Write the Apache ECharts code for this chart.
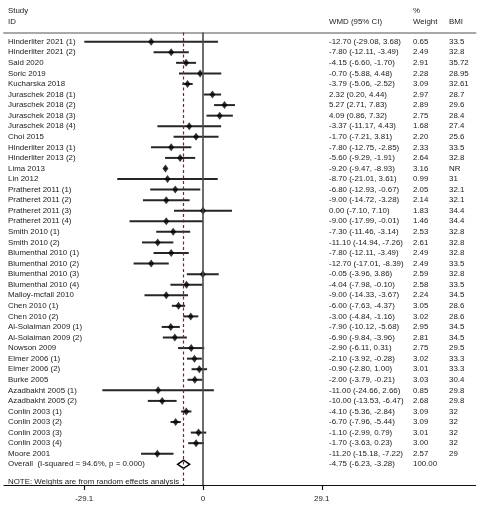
<!DOCTYPE html>
<html>
<head>
<meta charset="utf-8">
<title>forest plot</title>
<script src="https://cdn.jsdelivr.net/npm/echarts@6/dist/echarts.min.js"></script>
<style>
html, body { margin: 0; padding: 0; background: #fff; }
#main { width: 485px; height: 510px; }
</style>
</head>
<body>
<div id="main"></div>
<script>
var studies = [
    'Hinderliter 2021 (1)', 'Hinderliter 2021 (2)', 'Said 2020', 'Soric 2019', 'Kucharska 2018',
    'Juraschek 2018 (1)', 'Juraschek 2018 (2)', 'Juraschek 2018 (3)', 'Juraschek 2018 (4)', 'Choi 2015',
    'Hinderliter 2013 (1)', 'Hinderliter 2013 (2)', 'Lima 2013', 'Lin 2012', 'Pratheret 2011 (1)',
    'Pratheret 2011 (2)', 'Pratheret 2011 (3)', 'Pratheret 2011 (4)', 'Smith 2010 (1)', 'Smith 2010 (2)',
    'Blumenthal 2010 (1)', 'Blumenthal 2010 (2)', 'Blumenthal 2010 (3)', 'Blumenthal 2010 (4)', 'Malloy-mcfall 2010',
    'Chen 2010 (1)', 'Chen 2010 (2)', 'Al-Solaiman 2009 (1)', 'Al-Solaiman 2009 (2)', 'Nowson 2009',
    'Elmer 2006 (1)', 'Elmer 2006 (2)', 'Burke 2005', 'Azadbakht 2005 (1)', 'Azadbakht 2005 (2)',
    'Conlin 2003 (1)', 'Conlin 2003 (2)', 'Conlin 2003 (3)', 'Conlin 2003 (4)', 'Moore 2001'
];
var wmd = [
    -12.70, -7.80, -4.15, -0.70, -3.79,
    2.32, 5.27, 4.09, -3.37, -1.70,
    -7.80, -5.60, -9.20, -8.70, -6.80,
    -9.00, 0.00, -9.00, -7.30, -11.10,
    -7.80, -12.70, -0.05, -4.04, -9.00,
    -6.00, -3.00, -7.90, -6.90, -2.90,
    -2.10, -0.90, -2.00, -11.00, -10.00,
    -4.10, -6.70, -1.10, -1.70, -11.20
];
var ciLow = [
    -29.08, -12.11, -6.60, -5.88, -5.06,
    0.20, 2.71, 0.86, -11.17, -7.21,
    -12.75, -9.29, -9.47, -21.01, -12.93,
    -14.72, -7.10, -17.99, -11.46, -14.94,
    -12.11, -17.01, -3.96, -7.98, -14.33,
    -7.63, -4.84, -10.12, -9.84, -6.11,
    -3.92, -2.80, -3.79, -24.66, -13.53,
    -5.36, -7.96, -2.99, -3.63, -15.18
];
var ciHigh = [
    3.68, -3.49, -1.70, 4.48, -2.52,
    4.44, 7.83, 7.32, 4.43, 3.81,
    -2.85, -1.91, -8.93, 3.61, -0.67,
    -3.28, 7.10, -0.01, -3.14, -7.26,
    -3.49, -8.39, 3.86, -0.10, -3.67,
    -4.37, -1.16, -5.68, -3.96, 0.31,
    -0.28, 1.00, -0.21, 2.66, -6.47,
    -2.84, -5.44, 0.79, 0.23, -7.22
];
var weights = [
    0.65, 2.49, 2.91, 2.28, 3.09,
    2.97, 2.89, 2.75, 1.68, 2.20,
    2.33, 2.64, 3.16, 0.99, 2.05,
    2.14, 1.83, 1.46, 2.53, 2.61,
    2.49, 2.49, 2.59, 2.58, 2.24,
    3.05, 3.02, 2.95, 2.81, 2.75,
    3.02, 3.01, 3.03, 0.85, 2.68,
    3.09, 3.09, 3.01, 3.00, 2.57
];
var bmi = [
    '33.5', '32.8', '35.72', '28.95', '32.61',
    '28.7', '29.6', '28.4', '27.4', '25.6',
    '33.5', '32.8', 'NR', '31', '32.1',
    '32.1', '34.4', '34.4', '32.8', '32.8',
    '32.8', '33.5', '32.8', '33.5', '34.5',
    '28.6', '28.6', '34.5', '34.5', '29.5',
    '33.3', '33.3', '30.4', '29.8', '29.8',
    '32', '32', '32', '32', '29'
];
var overallLabel = 'Overall  (I-squared = 94.6%, p = 0.000)';
var overallEst = -4.75, overallLow = -6.23, overallHigh = -3.28, overallWeight = 100.00;
var noteText = 'NOTE: Weights are from random effects analysis';
var xTicks = [-29.1, 0, 29.1];

var FONT = '7.9px "Liberation Sans", Arial, sans-serif';
var TXT = '#1a1a1a';
var COL_STUDY = 8, COL_CI = 329, COL_W = 413, COL_BMI = 449;
var overallRow = studies.length + 1;
var noteRow = overallRow + 1.62;

function ciText(e, l, h) {
    return e.toFixed(2) + ' (' + l.toFixed(2) + ', ' + h.toFixed(2) + ')';
}

function txt(s, x, y) {
    return {
        type: 'text', x: x, y: y, silent: true,
        style: { text: s, fill: TXT, font: FONT, align: 'left', verticalAlign: 'middle',
                 textAlign: 'left', textVerticalAlign: 'middle' }
    };
}

// one row per study + overall + note
var rows = [];
for (var i = 0; i < studies.length; i++) {
    rows.push([i + 1, studies[i], ciText(wmd[i], ciLow[i], ciHigh[i]), weights[i].toFixed(2), bmi[i]]);
}
rows.push([overallRow, overallLabel, ciText(overallEst, overallLow, overallHigh), overallWeight.toFixed(2), '']);
rows.push([noteRow, noteText, '', '', '']);

var ciData = studies.map(function (s, i) { return [i + 1, ciLow[i], ciHigh[i]]; });
var estData = studies.map(function (s, i) { return [wmd[i], i + 1]; });

var chart = echarts.init(document.getElementById('main'), null, { renderer: 'canvas' });

var option = {
    animation: false,
    backgroundColor: '#fff',
    grid: { left: 4, right: 9.5, top: 32.5, bottom: 25 },
    xAxis: [{
        type: 'value', position: 'bottom', min: -48.76, max: 66.77,
        splitLine: { show: false },
        axisLine: { onZero: false, lineStyle: { color: '#111', width: 1.2 } },
        axisTick: { customValues: xTicks, length: 5, lineStyle: { color: '#111', width: 1.2 } },
        axisLabel: {
            customValues: xTicks, margin: 10, color: TXT, fontSize: 7.9,
            fontFamily: '"Liberation Sans", Arial, sans-serif',
            formatter: function (v) { return String(v); }
        }
    }, {
        type: 'value', position: 'top', min: -48.76, max: 66.77,
        splitLine: { show: false },
        axisLine: { onZero: false, lineStyle: { color: '#a8a8a8', width: 2 } },
        axisTick: { show: false },
        axisLabel: { show: false }
    }],
    yAxis: {
        type: 'value', inverse: true, min: 0.129, max: 42.96, show: false
    },
    graphic: [
        txt('Study', COL_STUDY, 11),
        txt('ID', COL_STUDY, 22),
        txt('WMD (95% CI)', COL_CI, 22),
        txt('%', COL_W, 11),
        txt('Weight', COL_W, 22),
        txt('BMI', COL_BMI, 22)
    ],
    series: [{
        name: 'ci',
        type: 'custom',
        data: ciData,
        encode: { x: [1, 2], y: 0 },
        renderItem: function (params, api) {
            var p1 = api.coord([api.value(1), api.value(0)]);
            var p2 = api.coord([api.value(2), api.value(0)]);
            return {
                type: 'line',
                shape: { x1: p1[0], y1: p1[1], x2: p2[0], y2: p2[1] },
                style: { stroke: '#262626', lineWidth: 2 }
            };
        },
        markLine: {
            silent: true, symbol: 'none', label: { show: false },
            data: [
                { xAxis: 0, lineStyle: { color: '#4a4a4a', width: 1.6, type: 'solid' } },
                { xAxis: overallEst, lineStyle: { color: '#8b1c1c', width: 1.2, type: [3, 2.5] } }
            ]
        },
        z: 2
    }, {
        name: 'est',
        type: 'scatter',
        data: estData,
        symbol: 'diamond',
        symbolSize: [6, 8],
        itemStyle: { color: '#000' },
        clip: false,
        z: 3
    }, {
        name: 'overall',
        type: 'custom',
        data: [[overallRow, overallLow, overallEst, overallHigh]],
        encode: { x: [1, 2, 3], y: 0 },
        renderItem: function (params, api) {
            var r = api.value(0);
            var l = api.coord([api.value(1), r]);
            var t = api.coord([api.value(2), r - 0.39]);
            var rr = api.coord([api.value(3), r]);
            var b = api.coord([api.value(2), r + 0.39]);
            return {
                type: 'polygon',
                shape: { points: [l, t, rr, b] },
                style: { fill: '#fff', stroke: '#000', lineWidth: 1.5 }
            };
        },
        z: 4
    }, {
        name: 'labels',
        type: 'custom',
        data: rows,
        encode: { y: 0 },
        renderItem: function (params, api) {
            var d = rows[params.dataIndex];
            var y = api.coord([0, d[0]])[1];
            var kids = [txt(d[1], COL_STUDY, y)];
            if (d[2]) kids.push(txt(d[2], COL_CI, y));
            if (d[3]) kids.push(txt(d[3], COL_W, y));
            if (d[4]) kids.push(txt(d[4], COL_BMI, y));
            return { type: 'group', children: kids };
        },
        silent: true,
        z: 5
    }]
};

chart.setOption(option);
</script>
</body>
</html>
